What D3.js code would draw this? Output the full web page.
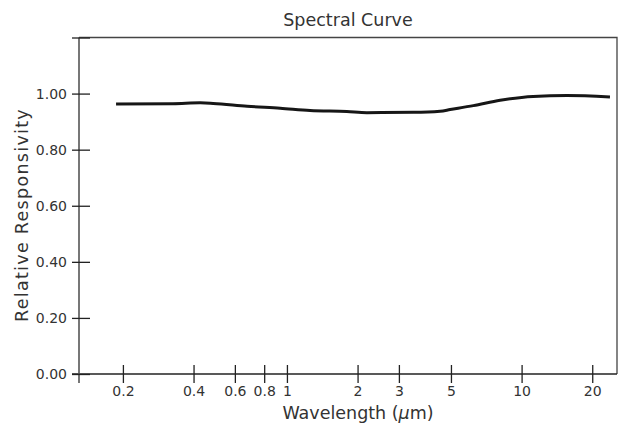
<!DOCTYPE html>
<html>
<head>
<meta charset="utf-8">
<script src="https://cdn.jsdelivr.net/npm/d3@7"></script>
<style>
  body { margin: 0; background: #fff; }
  text { font-family: "DejaVu Sans", sans-serif; fill: #333; }
</style>
</head>
<body>
<script>
//chart values
var wavelength = [0.187, 0.327, 0.427, 0.485, 0.677, 0.936, 1.255, 1.80, 2.19, 3.46, 4.50, 4.96, 6.23, 8.10, 11.2, 15.6, 23.8];
var responsivity = [0.963, 0.964, 0.967, 0.965, 0.955, 0.948, 0.940, 0.936, 0.932, 0.933, 0.937, 0.943, 0.957, 0.976, 0.990, 0.993, 0.988];
var xTicks = [0.2, 0.4, 0.6, 0.8, 1, 2, 3, 5, 10, 20];
var yTicks = [0, 0.2, 0.4, 0.6, 0.8, 1.0, 1.2];

//frame dimensions
var width = 624,
    height = 427;

var svg = d3.select('body')
    .append('svg')
    .attr('width', width)
    .attr('height', height);

var x = d3.scaleLog()
    .domain([0.13, 25.5])
    .range([79, 617]);

var y = d3.scaleLinear()
    .domain([0, 1.2])
    .range([374, 37.5]);

//top and right border
svg.append('path')
    .attr('d', 'M' + x.range()[0] + ',' + y(1.2) + 'H' + x.range()[1] + 'V' + y(0))
    .attr('fill', 'none')
    .attr('stroke', '#444')
    .attr('stroke-width', 1.3);

//x axis, ticks crossing the line
var xAxis = svg.append('g')
    .attr('transform', 'translate(0,' + y(0) + ')')
    .call(d3.axisBottom(x)
        .tickValues(xTicks)
        .tickFormat(d3.format('~g'))
        .tickSize(0)
        .tickPadding(12));
xAxis.select('.domain')
    .attr('d', 'M72,0H' + x.range()[1])
    .attr('stroke', '#222')
    .attr('stroke-width', 1.3);
xAxis.selectAll('.tick line')
    .attr('y1', -9)
    .attr('y2', 9)
    .attr('stroke', '#222')
    .attr('stroke-width', 1.3);
xAxis.selectAll('.tick text')
    .attr('font-size', 14)
    .style('font-family', '"DejaVu Sans", sans-serif')
    .attr('fill', '#3a3a3a');

//y axis
var yAxis = svg.append('g')
    .attr('transform', 'translate(' + x.range()[0] + ',0)')
    .call(d3.axisLeft(y)
        .tickValues(yTicks)
        .tickFormat(function(d){ return d > 1.1 ? '' : d3.format('.2f')(d); })
        .tickSize(0)
        .tickPadding(12));
yAxis.select('.domain')
    .attr('d', 'M0,' + y(1.2) + 'V383')
    .attr('stroke', '#555')
    .attr('stroke-width', 1.6);
yAxis.selectAll('.tick line')
    .attr('x1', -7)
    .attr('x2', 11)
    .attr('stroke', '#222')
    .attr('stroke-width', 1.3);
yAxis.selectAll('.tick text')
    .attr('font-size', 14)
    .style('font-family', '"DejaVu Sans", sans-serif')
    .attr('fill', '#3a3a3a');

//spectral curve
var line = d3.line()
    .x(function(d){ return x(d[0]); })
    .y(function(d){ return y(d[1]); })
    .curve(d3.curveMonotoneX);

svg.append('path')
    .datum(d3.zip(wavelength, responsivity))
    .attr('d', line)
    .attr('fill', 'none')
    .attr('stroke', '#161616')
    .attr('stroke-width', 3);

//titles
svg.append('text')
    .attr('x', 348)
    .attr('y', 26)
    .attr('text-anchor', 'middle')
    .attr('font-size', 17.5)
    .text('Spectral Curve');

svg.append('text')
    .attr('x', 358)
    .attr('y', 419)
    .attr('text-anchor', 'middle')
    .attr('font-size', 17.5)
    .html('Wavelength (<tspan font-style="italic">μ</tspan>m)');

svg.append('text')
    .attr('transform', 'translate(28,215) rotate(-90)')
    .attr('text-anchor', 'middle')
    .attr('font-size', 17.5)
    .attr('letter-spacing', 1.3)
    .text('Relative Responsivity');
</script>
</body>
</html>
